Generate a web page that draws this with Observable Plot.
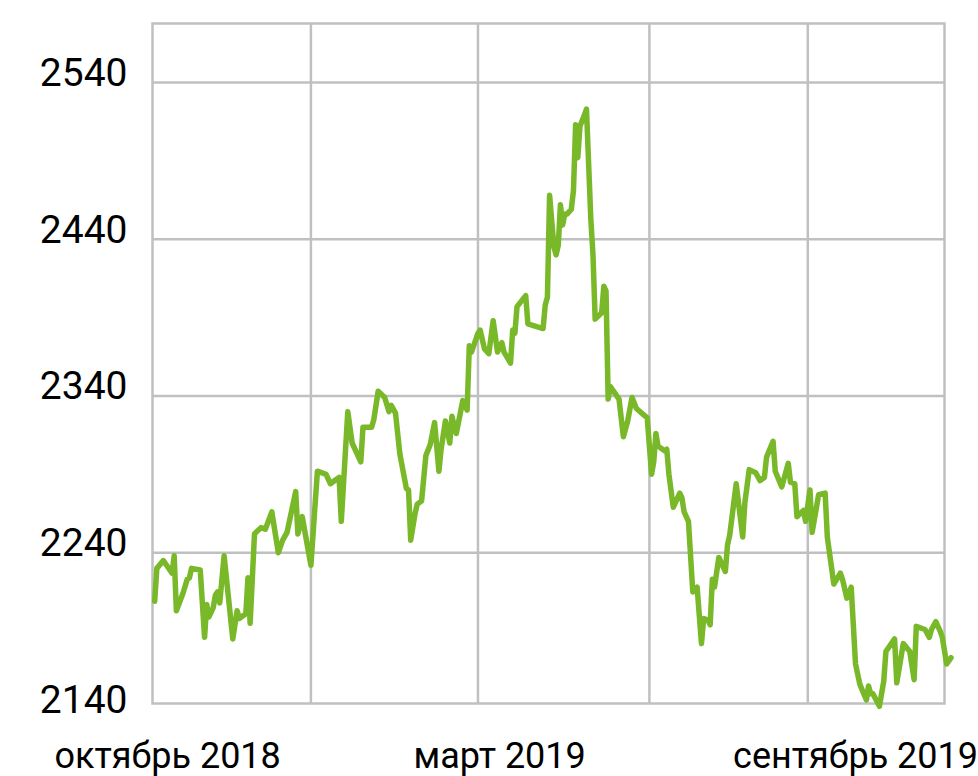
<!DOCTYPE html>
<html>
<head>
<meta charset="utf-8">
<script src="https://cdn.jsdelivr.net/npm/d3@7"></script>
<script src="https://cdn.jsdelivr.net/npm/@observablehq/plot@0.6"></script>
<style>
  body { margin: 0; background: #fff; }
  #chart svg { display: block; }
</style>
</head>
<body>
<div id="chart"></div>
<script>
const startDate = "2018-10-01";
const endDate = "2019-10-01";

// days elapsed since startDate
const dayOffsets = [1,2,5,8,9,10,11,14,16,17,18,22,24,25,26,28,29,30,31,33,37,39,40,43,44,45,47,50,52,55,58,60,62,66,67,69,73,76,80,82,84,86,87,90,92,96,97,101,102,104,107,109,110,112,114,117,118,119,121,122,124,126,128,130,132,133,135,137,138,140,142,143,145,146,147,150,151,153,155,157,159,161,162,165,166,167,168,172,173,180,181,182,183,185,186,187,188,189,190,191,193,194,195,196,197,199,200,202,203,204,207,208,209,210,211,213,215,217,219,221,223,228,230,231,232,233,236,237,238,240,243,244,245,247,249,251,253,254,256,257,258,259,261,264,265,266,269,272,273,275,278,280,282,283,286,287,290,293,294,296,297,300,301,303,304,307,310,311,314,317,318,320,322,324,326,329,330,331,332,335,337,338,342,343,346,349,351,352,356,358,359,361,363,364,366,368];

const values = [2209,2230,2235,2229,2227,2238,2203,2214,2223,2224,2230,2229,2186,2207,2199,2205,2213,2215,2208,2238,2185,2203,2198,2201,2224,2195,2252,2256,2255,2266,2240,2248,2253,2279,2252,2263,2232,2292,2290,2284,2286,2288,2260,2330,2310,2298,2320,2320,2325,2343,2339,2330,2334,2329,2303,2281,2280,2248,2265,2271,2273,2302,2309,2323,2292,2306,2324,2310,2327,2316,2330,2337,2331,2372,2368,2380,2382,2370,2367,2388,2368,2374,2368,2361,2382,2380,2397,2404,2386,2383,2398,2403,2468,2435,2430,2436,2462,2449,2456,2456,2459,2471,2513,2492,2512,2519,2523,2453,2430,2389,2393,2410,2407,2338,2346,2342,2338,2314,2324,2339,2332,2326,2290,2298,2316,2308,2305,2306,2290,2269,2278,2275,2266,2260,2215,2218,2182,2198,2197,2194,2223,2218,2237,2228,2245,2251,2284,2250,2272,2293,2291,2286,2288,2301,2311,2292,2282,2297,2285,2284,2263,2267,2260,2280,2253,2277,2278,2250,2220,2227,2223,2211,2218,2169,2156,2146,2155,2150,2150,2142,2158,2177,2185,2157,2182,2177,2159,2193,2191,2186,2191,2196,2190,2186,2169,2173];

const yTicks = [2140, 2240, 2340, 2440, 2540];
const yGridValues = [2240, 2340, 2440, 2540];
const yDomain = [2143.8, 2577.6];

const xLabels = ["октябрь 2018", "март 2019", "сентябрь 2019"];
const xLabelDates = ["2018-10-08", "2019-03-10", "2019-08-21"];
const xGridDates = ["2018-12-13", "2019-02-28", "2019-05-18", "2019-07-30"];

const start = new Date(startDate);
const data = dayOffsets.map((d, i) => ({ date: d3.utcDay.offset(start, d), value: values[i] }));
const labelDates = xLabelDates.map(d => new Date(d));
const labelMap = new Map(labelDates.map((d, i) => [+d, xLabels[i]]));

const lineColor = "#79b829";
const gridColor = "#c0c0c0";

const chart = Plot.plot({
  width: 978,
  height: 776,
  marginLeft: 152,
  marginRight: 34,
  marginTop: 23,
  marginBottom: 73,
  style: { fontFamily: "Roboto, sans-serif", background: "#fff", color: "#000" },
  x: { type: "utc", domain: [start, new Date(endDate)], label: null },
  y: { domain: yDomain, label: null },
  marks: [
    Plot.gridX(xGridDates.map(d => new Date(d)), { stroke: gridColor, strokeOpacity: 1, strokeWidth: 2.5 }),
    Plot.gridY(yGridValues, { stroke: gridColor, strokeOpacity: 1, strokeWidth: 2.5 }),
    Plot.frame({ stroke: gridColor, strokeWidth: 2.5 }),
    Plot.line(data, { x: "date", y: "value", stroke: lineColor, strokeWidth: 5.5, strokeLinejoin: "round", strokeLinecap: "round" }),
    Plot.axisY(yTicks, { tickSize: 0, tickPadding: 25, fontSize: 39, dy: -9, label: null, tickFormat: d => String(d) }),
    Plot.axisX(labelDates, { tickSize: 0, tickPadding: 39, fontSize: 36, label: null, tickFormat: d => labelMap.get(+d) })
  ]
});

document.getElementById("chart").appendChild(chart);
</script>
</body>
</html>
